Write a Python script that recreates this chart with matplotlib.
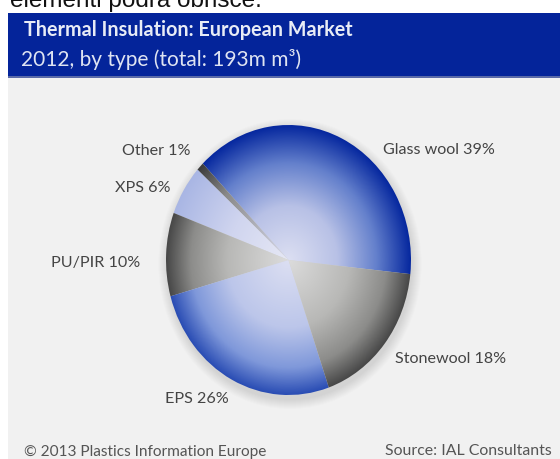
import numpy as np
import matplotlib
matplotlib.use("Agg")
import matplotlib.pyplot as plt
from matplotlib.patches import Ellipse, Rectangle
from matplotlib.colors import LinearSegmentedColormap

plt.rcParams["font.family"] = ["Lato", "DejaVu Sans"]

categorias = ["Glass wool", "Other", "XPS", "PU/PIR", "EPS", "Stonewool"]
valores = [39, 1, 6, 10, 26, 18]
etiquetas = ["Glass wool 39%", "Other 1%", "XPS 6%", "PU/PIR 10%", "EPS 26%", "Stonewool 18%"]

titulo = "Thermal Insulation: European Market"
subtitulo = "2012, by type (total: 193m m\u00b3)"
copyright_txt = "\u00a9 2013 Plastics Information Europe"
fuente_txt = "Source: IAL Consultants"
texto_superior = "elementi podra obrisce."

# degradado radial por sector: centro claro, borde oscuro
AZUL = LinearSegmentedColormap.from_list("azul", [(0, "#dcdff2"), (0.4, "#b8c1e6"), (0.72, "#6480cc"), (1, "#06289f")])
AZUL_EPS = LinearSegmentedColormap.from_list("azul_eps", [(0, "#dcdff2"), (0.5, "#bcc6ea"), (0.8, "#7f98da"), (1, "#2a4db4")])
AZUL_CLARO = LinearSegmentedColormap.from_list("azul_claro", ["#e6e8f5", "#d0d5ef", "#a9b6e4"])
GRIS = LinearSegmentedColormap.from_list("gris", [(0, "#dcdcdc"), (0.5, "#b8b8b6"), (0.8, "#8c8c8a"), (1, "#484848")])
OSCURO = LinearSegmentedColormap.from_list("oscuro", [(0, "#d8dbee"), (0.7, "#8a8a8a"), (1, "#3c3c3c")])
mapas = [AZUL, OSCURO, AZUL_CLARO, GRIS, AZUL_EPS, GRIS]

fig = plt.figure(figsize=(5.6, 4.59), dpi=100, facecolor="white")

# fondo en pixeles
fondo = fig.add_axes([0, 0, 1, 1])
fondo.set_xlim(0, 560)
fondo.set_ylim(459, 0)
fondo.axis("off")
fondo.add_patch(Rectangle((8, 13), 552, 446, color="#f1f1f1", lw=0))
fondo.add_patch(Rectangle((8, 13), 552, 65, color="#04249a", lw=0))
fondo.add_patch(Rectangle((8, 76), 552, 2, color="#5a6aa8", lw=0))

# sombra suave debajo del pastel
for i in range(10):
    fondo.add_patch(Ellipse((290, 264), 245 + 2 * i, 272 + 2 * i, color="#555555",
                            alpha=0.014, lw=0))

# linea de texto cortada arriba de la figura
fondo.text(10, 7, texto_superior, color="#111111", fontsize=17.5, va="baseline",
           family="Liberation Sans")

fondo.text(24, 30, titulo, color="#e8ecf6", fontsize=14.2, fontweight="bold", va="center")
fondo.text(21, 60, subtitulo, color="#dfe4f2", fontsize=15, va="center")
fondo.text(24, 452, copyright_txt, color="#555555", fontsize=11.1, va="center")
fondo.text(552, 451, fuente_txt, color="#555555", fontsize=11.4, va="center", ha="right")

fondo.text(383, 150, etiquetas[0], color="#444444", fontsize=11.6, va="center")
fondo.text(122, 151, etiquetas[1], color="#444444", fontsize=11.6, va="center")
fondo.text(115, 188, etiquetas[2], color="#444444", fontsize=11.6, va="center")
fondo.text(51, 263, etiquetas[3], color="#444444", fontsize=11.6, va="center")
fondo.text(165, 399, etiquetas[4], color="#444444", fontsize=11.6, va="center")
fondo.text(395, 359, etiquetas[5], color="#444444", fontsize=11.6, va="center")

# pastel eliptico: ejes de 245x270 px
ax = fig.add_axes([166 / 560, 1 - 395 / 459, 245 / 560, 270 / 459])
sectores, _ = ax.pie(valores, startangle=-6, counterclock=True, radius=1, center=(0, 0))
ax.set_aspect("auto")
ax.set_xlim(-1, 1)
ax.set_ylim(-1, 1)
ax.axis("off")

yy, xx = np.mgrid[-1:1:400j, -1:1:400j]
radio = np.hypot(xx, yy)
for sector, mapa in zip(sectores, mapas):
    img = ax.imshow(radio, cmap=mapa, vmin=0, vmax=1, extent=(-1, 1, -1, 1),
                    origin="lower", aspect="auto", interpolation="bilinear")
    sector.set_facecolor("none")
    sector.set_edgecolor("none")
    img.set_clip_path(sector)

fig.savefig("out.png", dpi=100)
